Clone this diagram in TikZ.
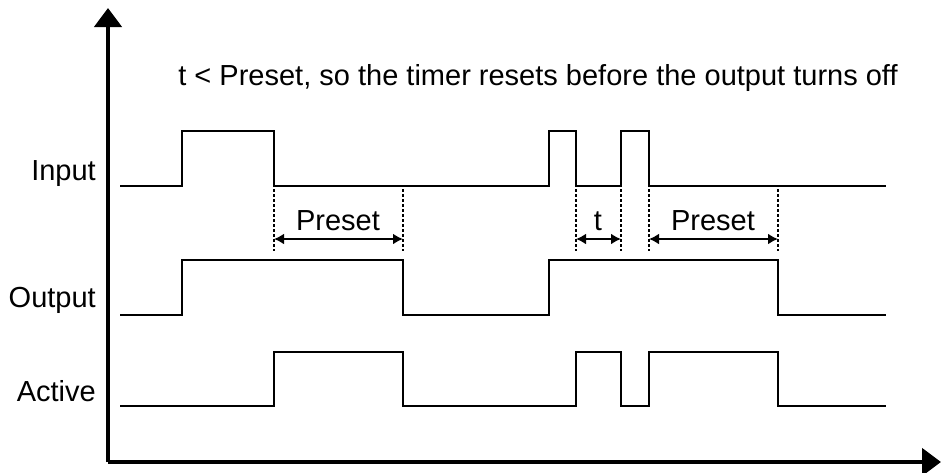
\documentclass[tikz,border=0pt]{standalone}
\usepackage{fontspec}
\setmainfont{Liberation Sans}
\usetikzlibrary{arrows.meta}
\begin{document}
\begin{tikzpicture}[x=1pt,y=-1pt,
  sig/.style={line width=2pt,line join=miter},
  axis/.style={line width=4.5pt,-{Triangle[width=27pt,length=19pt]}},
  guide/.style={line width=1.3pt,dash pattern=on 3pt off 2pt},
  dim/.style={line width=2.4pt,{Latex[width=11pt,length=10pt]}-{Latex[width=11pt,length=10pt]}},
  lbl/.style={font=\fontsize{29}{34}\selectfont,inner sep=0pt},
  rowlbl/.style={lbl,anchor=east}]
\useasboundingbox (0,0) rectangle (941,472);
% axes
\coordinate (origin) at (108,462);
\coordinate (ytip) at (108,8);
\coordinate (xtip) at (941,462);
\draw[axis] (origin) -- (ytip);
\draw[axis] (origin) -- (xtip);
% title
\node[lbl] (title) at (538,78) {t < Preset, so the timer resets before the output turns off};
% row labels
\node[rowlbl] (lin) at (96,174) {Input};
\node[rowlbl] (lout) at (96,300) {Output};
\node[rowlbl] (lact) at (96,391) {Active};
% Input
\draw[sig] (120,186) -- (182,186) -- (182,131) -- (274,131) -- (274,186) -- (549,186) -- (549,131) -- (576,131) -- (576,186) -- (621,186) -- (621,131) -- (649,131) -- (649,186) -- (886,186);
% Output
\draw[sig] (120,315) -- (182,315) -- (182,260) -- (403,260) -- (403,315) -- (549,315) -- (549,260) -- (778,260) -- (778,315) -- (886,315);
% Active
\draw[sig] (120,406) -- (274,406) -- (274,352) -- (403,352) -- (403,406) -- (576,406) -- (576,352) -- (621,352) -- (621,406) -- (649,406) -- (649,352) -- (778,352) -- (778,406) -- (886,406);
% guides
\foreach \x in {274,403,576,621,649,778} \draw[guide] (\x,189) -- (\x,251);
% dimensions
\draw[dim] (274,239) -- (403,239);
\node[lbl] (p1) at (338,221) {Preset};
\draw[dim] (576,239) -- (621,239);
\node[lbl] (tl) at (598,221) {t};
\draw[dim] (649,239) -- (778,239);
\node[lbl] (p2) at (713,221) {Preset};
\end{tikzpicture}
\end{document}
